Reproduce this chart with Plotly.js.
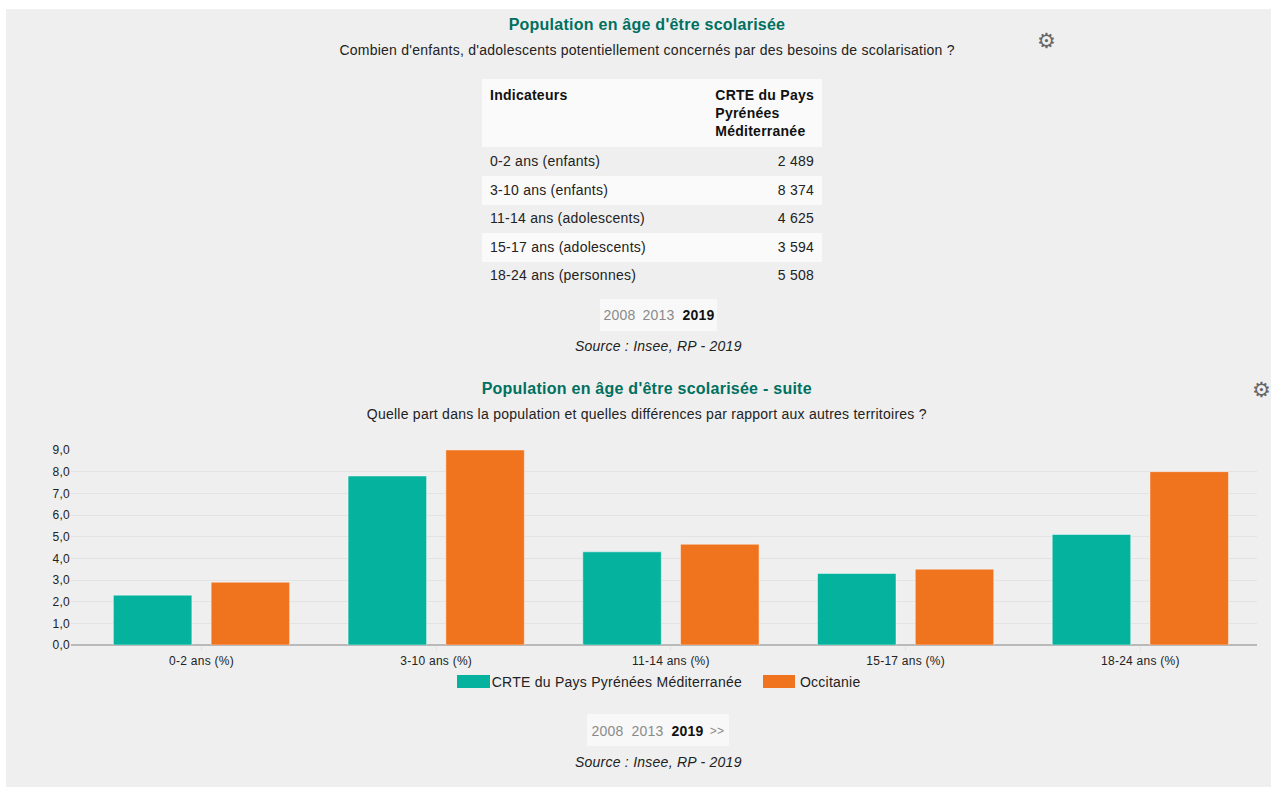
<!DOCTYPE html>
<html lang="fr">
<head>
<meta charset="utf-8">
<title>Population en âge d'être scolarisée</title>
<script src="https://cdn.plot.ly/plotly-3.0.1.min.js"></script>
<style>
html,body{margin:0;padding:0;background:#fff;overflow:hidden}
#chart{width:1271px;height:787px}
#chart svg text{letter-spacing:.25px}
</style>
</head>
<body>
<div id="chart"></div>
<script>
const categories = ['0-2 ans (%)','3-10 ans (%)','11-14 ans (%)','15-17 ans (%)','18-24 ans (%)'];
const seriesNames = ['CRTE du Pays Pyrénées Méditerranée','Occitanie'];
const crteValues = [2.3,7.8,4.3,3.3,5.1];
const occitanieValues = [2.9,9.0,4.65,3.5,8.0];
const tableHeader = ['<b>Indicateurs</b>','<b>CRTE du Pays<br>Pyrénées<br>Méditerranée</b>'];
const tableLabels = ['0-2 ans (enfants)','3-10 ans (enfants)','11-14 ans (adolescents)','15-17 ans (adolescents)','18-24 ans (personnes)'];
const tableValues = ['2 489','8 374','4 625','3 594','5 508'];
const yTicks = [0,1,2,3,4,5,6,7,8,9];

const W=1271,H=787;
const X=v=>v/W, Y=v=>1-v/H;
const FONT='"Liberation Sans", Arial, sans-serif';
const TEAL='#05b29e', ORANGE='#f0731e', TITLE='#00705f', INK='#222222';

function note(text,x,y,size,color,anchor,extra){
  return Object.assign({text:text,x:X(x),y:Y(y),xref:'paper',yref:'paper',xanchor:anchor||'center',yanchor:'middle',
    showarrow:false,font:{family:FONT,size:size,color:color||INK}},extra||{});
}
function box(x0,y0,x1,y1,fill){
  return {type:'rect',xref:'paper',yref:'paper',x0:X(x0),x1:X(x1),y0:Y(y0),y1:Y(y1),fillcolor:fill,line:{width:0},layer:'below'};
}

const traces=[
 {type:'bar',name:seriesNames[0],x:categories,y:crteValues,marker:{color:TEAL,line:{color:'rgba(255,255,255,.45)',width:1}},hoverinfo:'x+y+name'},
 {type:'bar',name:seriesNames[1],x:categories,y:occitanieValues,marker:{color:ORANGE,line:{color:'rgba(255,255,255,.45)',width:1}},hoverinfo:'x+y+name'},
 {type:'table',domain:{x:[X(482),X(822)],y:[Y(285),Y(79)]},columnwidth:[205,135],
  header:{values:tableHeader,height:61,align:['left','right'],fill:{color:'#fafafa'},line:{color:'rgba(0,0,0,0)',width:0},
    font:{family:FONT,size:14,color:'#111'}},
  cells:{values:[tableLabels,tableValues],height:28.6,align:['left','right'],
    fill:{color:[['#efefef','#fafafa','#efefef','#fafafa','#efefef']]},line:{color:'rgba(0,0,0,0)',width:0},
    font:{family:FONT,size:14,color:INK}}}
];

const layout={
 width:W,height:H,margin:{l:0,r:0,t:0,b:0},autosize:false,
 paper_bgcolor:'#ffffff',plot_bgcolor:'rgba(0,0,0,0)',showlegend:false,separators:', ',
 barmode:'group',bargap:0.167,bargroupgap:0.197,
 font:{family:FONT,color:INK},
 xaxis:{domain:[X(71),X(1257)],anchor:'y',range:[-0.556,4.497],type:'category',
   showgrid:false,zeroline:false,showline:false,ticks:'outside',ticklen:5,tickcolor:'#e2e2e2',tickwidth:1,
   tickfont:{family:FONT,size:12,color:INK},fixedrange:true},
 yaxis:{domain:[Y(645),Y(450)],anchor:'x',range:[0,9],tickmode:'array',tickvals:yTicks,tickformat:'.1f',
   gridcolor:'#e3e3e3',gridwidth:1,zeroline:true,zerolinecolor:'#b9b9b9',zerolinewidth:2,showline:false,ticks:'',
   tickfont:{family:FONT,size:12,color:INK},fixedrange:true},
 shapes:[
  box(6,9,1271,787,'#efefef'),
  box(600,299,717,331,'#f8f8f8'),
  box(587,714,729,746,'#f8f8f8'),
  box(457,675,490,688,TEAL),
  box(763,675,795,688,ORANGE)
 ],
 annotations:[
  note('<b>Population en âge d\'être scolarisée</b>',647,25,16,TITLE),
  note('Combien d\'enfants, d\'adolescents potentiellement concernés par des besoins de scolarisation ?',647,50,14),
  note('2008',619,315,14,'#8a8a8a'),
  note('2013',658,315,14,'#8a8a8a'),
  note('<b>2019</b>',698,315,14,'#111'),
  note('<i>Source : Insee, RP - 2019</i>',659,346,14),
  note('<b>Population en âge d\'être scolarisée - suite</b>',647,389,16,TITLE),
  note('Quelle part dans la population et quelles différences par rapport aux autres territoires ?',647,414,14),
  note(seriesNames[0],494,682,14,INK,'left'),
  note(seriesNames[1],799,682,14,INK,'left'),
  note('2008',607,731,14,'#8a8a8a'),
  note('2013',647,731,14,'#8a8a8a'),
  note('<b>2019</b>',687,731,14,'#111'),
  note('>>',717,731,12,'#8a8a8a'),
  note('<i>Source : Insee, RP - 2019</i>',659,762,14),
  {text:'⚙',x:X(1058),y:Y(27),xref:'paper',yref:'paper',showarrow:false,font:{family:'DejaVu Sans',size:21,color:'#666'}},
  {text:'⚙',x:X(1273),y:Y(390),xref:'paper',yref:'paper',showarrow:false,font:{family:'DejaVu Sans',size:21,color:'#666'}}
 ]
};
Plotly.newPlot('chart',traces,layout,{displayModeBar:false,responsive:false});
</script>
</body>
</html>
